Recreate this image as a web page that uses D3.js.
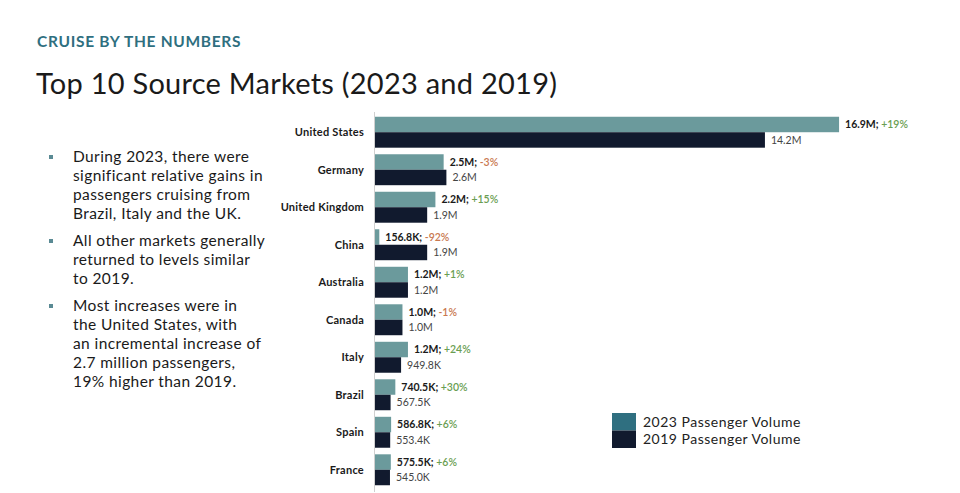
<!DOCTYPE html>
<html><head><meta charset="utf-8">
<script src="https://cdn.jsdelivr.net/npm/d3@7"></script>
<style>body{margin:0;background:#fff}svg{display:block}</style>
</head><body><svg id="c" width="960" height="493"></svg>
<script>
const categories = ["United States","Germany","United Kingdom","China","Australia","Canada","Italy","Brazil","Spain","France"];
const values2023 = [16.9, 2.5, 2.2, 0.1568, 1.2, 1.0, 1.2, 0.7405, 0.5868, 0.5755];
const values2019 = [14.2, 2.6, 1.9, 1.9, 1.2, 1.0, 0.9498, 0.5675, 0.5534, 0.545];
const labels2023 = ["16.9M","2.5M","2.2M","156.8K","1.2M","1.0M","1.2M","740.5K","586.8K","575.5K"];
const labels2019 = ["14.2M","2.6M","1.9M","1.9M","1.2M","1.0M","949.8K","567.5K","553.4K","545.0K"];
const changes = ["+19%","-3%","+15%","-92%","+1%","-1%","+24%","+30%","+6%","+6%"];
const seriesNames = ["2023 Passenger Volume","2019 Passenger Volume"];
const bullets = [
  ["During 2023, there were","significant relative gains in","passengers cruising from","Brazil, Italy and the UK."],
  ["All other markets generally","returned to levels similar","to 2019."],
  ["Most increases were in","the United States, with","an incremental increase of","2.7 million passengers,","19% higher than 2019."]
];

const FONT = "Lato, 'Open Sans', sans-serif";
const C23 = "#6b9a9c", C19 = "#111a2e", LEG23 = "#2f6f80";
const svg = d3.select("#c");

svg.append("text").attr("x",37).attr("y",47).attr("font-family",FONT).attr("font-weight",700)
  .attr("font-size",15.5).attr("letter-spacing",0.7).attr("fill","#2f6f7f").text("CRUISE BY THE NUMBERS");
svg.append("text").attr("x",36).attr("y",94).attr("font-family",FONT).attr("font-weight",400)
  .attr("font-size",29).attr("letter-spacing",0.25).attr("fill","#1a1a1a").text("Top 10 Source Markets (2023 and 2019)");

// bullets
let y = 162;
bullets.forEach(b => {
  svg.append("rect").attr("x",49).attr("y",y-7).attr("width",4).attr("height",4).attr("fill","#5a8a94");
  b.forEach(line => {
    svg.append("text").attr("x",73).attr("y",y).attr("font-family",FONT).attr("font-size",15.5)
      .attr("letter-spacing",0.4).attr("fill","#1a1a1a").text(line);
    y += 19;
  });
  y += 8;
});

const x = d3.scaleLinear().domain([0,17]).range([375, 375+17*27.46]);
const yb = d3.scaleBand().domain(categories).range([113, 113+37.6*10]).paddingInner(0.175).paddingOuter(0.1);
const bw = yb.bandwidth()/2;

svg.append("line").attr("x1",374.5).attr("x2",374.5).attr("y1",112).attr("y2",492)
  .attr("stroke","#d0d0d0").attr("stroke-width",1);

const g = svg.append("g");
categories.forEach((c,i) => {
  const top = yb(c);
  g.append("rect").attr("x",x(0)).attr("y",top).attr("width",x(values2023[i])-x(0)).attr("height",bw).attr("fill",C23);
  g.append("rect").attr("x",x(0)).attr("y",top+bw).attr("width",x(values2019[i])-x(0)).attr("height",bw).attr("fill",C19);
  g.append("text").attr("x",364).attr("y",top+bw).attr("dy","0.35em").attr("text-anchor","end")
    .attr("font-family",FONT).attr("font-weight",700).attr("font-size",11).attr("letter-spacing",0.25)
    .attr("fill","#1a1a1a").text(c);
  const t = g.append("text").attr("x",x(values2023[i])+6).attr("y",top+bw/2).attr("dy","0.35em")
    .attr("font-family",FONT).attr("font-size",10.5);
  t.append("tspan").attr("font-weight",700).attr("fill","#1a1a1a").text(labels2023[i]+"; ");
  t.append("tspan").attr("font-weight",600).attr("fill", changes[i][0]==="-" ? "#c9784f" : "#6a9e52").text(changes[i]);
  g.append("text").attr("x",x(values2019[i])+6).attr("y",top+bw*1.5).attr("dy","0.35em")
    .attr("font-family",FONT).attr("font-size",10.5).attr("fill","#444").text(labels2019[i]);
});

// legend
const lg = svg.append("g");
[LEG23, C19].forEach((col,i) => {
  lg.append("rect").attr("x",612).attr("y",413+i*17.5).attr("width",24).attr("height",17.5).attr("fill",col);
  lg.append("text").attr("x",643).attr("y",422+i*17.5).attr("dy","0.35em").attr("font-family",FONT)
    .attr("font-size",14).attr("letter-spacing",0.5).attr("fill","#222").text(seriesNames[i]);
});
</script></body></html>
